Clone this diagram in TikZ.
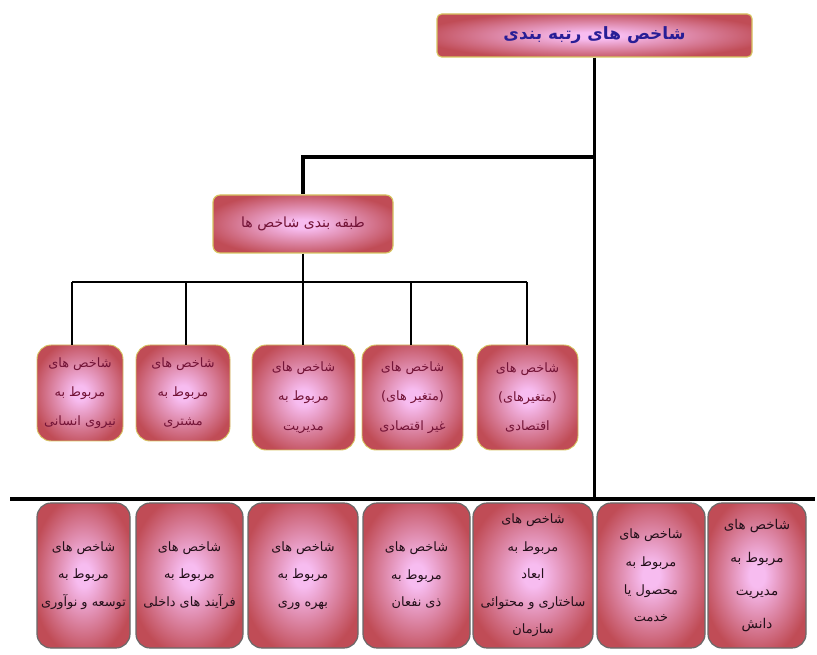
\documentclass[tikz,border=0pt]{standalone}
\usepackage{fontspec}
\usepackage{tikz}
\usetikzlibrary{positioning}
\newfontfamily\farsi[Script=Arabic]{DejaVu Sans}
\TeXXeTstate=1
\definecolor{boxred}{RGB}{192,76,86}
\definecolor{boxpink}{RGB}{247,188,240}
\definecolor{rimgold}{RGB}{214,196,96}
\definecolor{rimgray}{RGB}{105,105,105}
\definecolor{inkblue}{RGB}{40,30,150}
\definecolor{inkmaroon}{RGB}{115,20,55}
\definecolor{inkdark}{RGB}{35,15,25}
\pgfdeclareradialshading{glow}{\pgfpointorigin}{color(0bp)=(boxpink); color(4bp)=(boxpink); color(28bp)=(boxred); color(50bp)=(boxred)}
\newcommand{\fa}[1]{{\farsi\beginR #1\endR}}

\begin{document}
\begin{tikzpicture}[x=0.3mm,y=-0.3mm,
  size/.style 2 args={minimum width=#1*0.3mm,minimum height=#2*0.3mm},
  card/.style={inner sep=0pt,align=center,shading=glow},
  rank/.style={card,draw=rimgold,line width=1pt,rounded corners=4pt,text=inkblue,font=\fontsize{14.5}{18}\selectfont\bfseries},
  group/.style={card,draw=rimgold,line width=1pt,rounded corners=6pt,text=inkmaroon,font=\fontsize{12}{14}\selectfont},
  metric/.style={card,draw=rimgold,line width=0.8pt,rounded corners=12pt,text=inkmaroon,font=\fontsize{11}{25}\selectfont},
  leaf/.style={card,draw=rimgray,line width=1pt,rounded corners=12pt,text=inkdark,font=\fontsize{11}{23.5}\selectfont},
  link/.style={line width=3.2pt},
  rail/.style={line width=2.5pt}]

    \useasboundingbox (0,0) rectangle (817,655);

    % top and classification
    \node[rank,size={315}{43}] (rank) at (594.5,35.5) {\fa{شاخص های رتبه بندی}};
    \node[group,size={180}{58}] (group) at (303,224) {\fa{طبقه بندی شاخص ها}};

    % middle row
    \node[metric,size={86}{96}] (m1) at (80,393) {\fa{شاخص های}\\\fa{مربوط به}\\\fa{نیروی انسانی}};
    \node[metric,size={94}{96}] (m2) at (183,393) {\fa{شاخص های}\\\fa{مربوط به}\\\fa{مشتری}};
    \node[metric,size={103}{105}] (m3) at (303.5,397.5) {\fa{شاخص های}\\\fa{مربوط به}\\\fa{مدیریت}};
    \node[metric,size={101}{105}] (m4) at (412.5,397.5) {\fa{شاخص های}\\\fa{(متغیر های)}\\\fa{غیر اقتصادی}};
    \node[metric,size={101}{105}] (m5) at (527.5,397.5) {\fa{شاخص های}\\\fa{(متغیرهای)}\\\fa{اقتصادی}};

    % bottom row
    \node[leaf,size={93}{145}] (b1) at (83.5,575.5) {\fa{شاخص های}\\\fa{مربوط به}\\\fa{توسعه و نوآوری}};
    \node[leaf,size={107}{145}] (b2) at (189.5,575.5) {\fa{شاخص های}\\\fa{مربوط به}\\\fa{فرآیند های داخلی}};
    \node[leaf,size={110}{145}] (b3) at (303,575.5) {\fa{شاخص های}\\\fa{مربوط به}\\\fa{بهره وری}};
    \node[leaf,size={107}{145}] (b4) at (416.5,575.5) {\fa{شاخص های}\\\fa{مربوط به}\\\fa{ذی نفعان}};
    \node[leaf,size={120}{145}] (b5) at (533,575.5) {\fa{شاخص های}\\\fa{مربوط به}\\\fa{ابعاد}\\\fa{ساختاری و محتوائی}\\\fa{سازمان}};
    \node[leaf,size={108}{145}] (b6) at (651,575.5) {\fa{شاخص های}\\\fa{مربوط به}\\\fa{محصول یا}\\\fa{خدمت}};
    \node[leaf,size={98}{145},font=\fontsize{11.5}{28}\selectfont] (b7) at (757,575.5) {\fa{شاخص های}\\\fa{مربوط به}\\\fa{مدیریت}\\\fa{دانش}};

    \coordinate (fork) at (594,157);
    \coordinate (baseL) at (10,499);
    \coordinate (baseR) at (815,499);
    \coordinate (railL) at (72,282);
    \coordinate (railR) at (527,282);

    \draw[link] (rank) -- (rank |- baseL);
    \draw[link] (fork) -| (group);
    \draw[link] (baseL) -- (baseR);
    \draw[rail] (group) -- (group |- railL);
    \draw[rail] (railL) -- (railR);
    \foreach \n/\x in {m1/72,m2/186,m3/303,m4/411,m5/527} {
        \coordinate (tap) at (\x,282);
        \draw[rail] (tap) -- (tap |- \n.north);
    }
\end{tikzpicture}
\end{document}
